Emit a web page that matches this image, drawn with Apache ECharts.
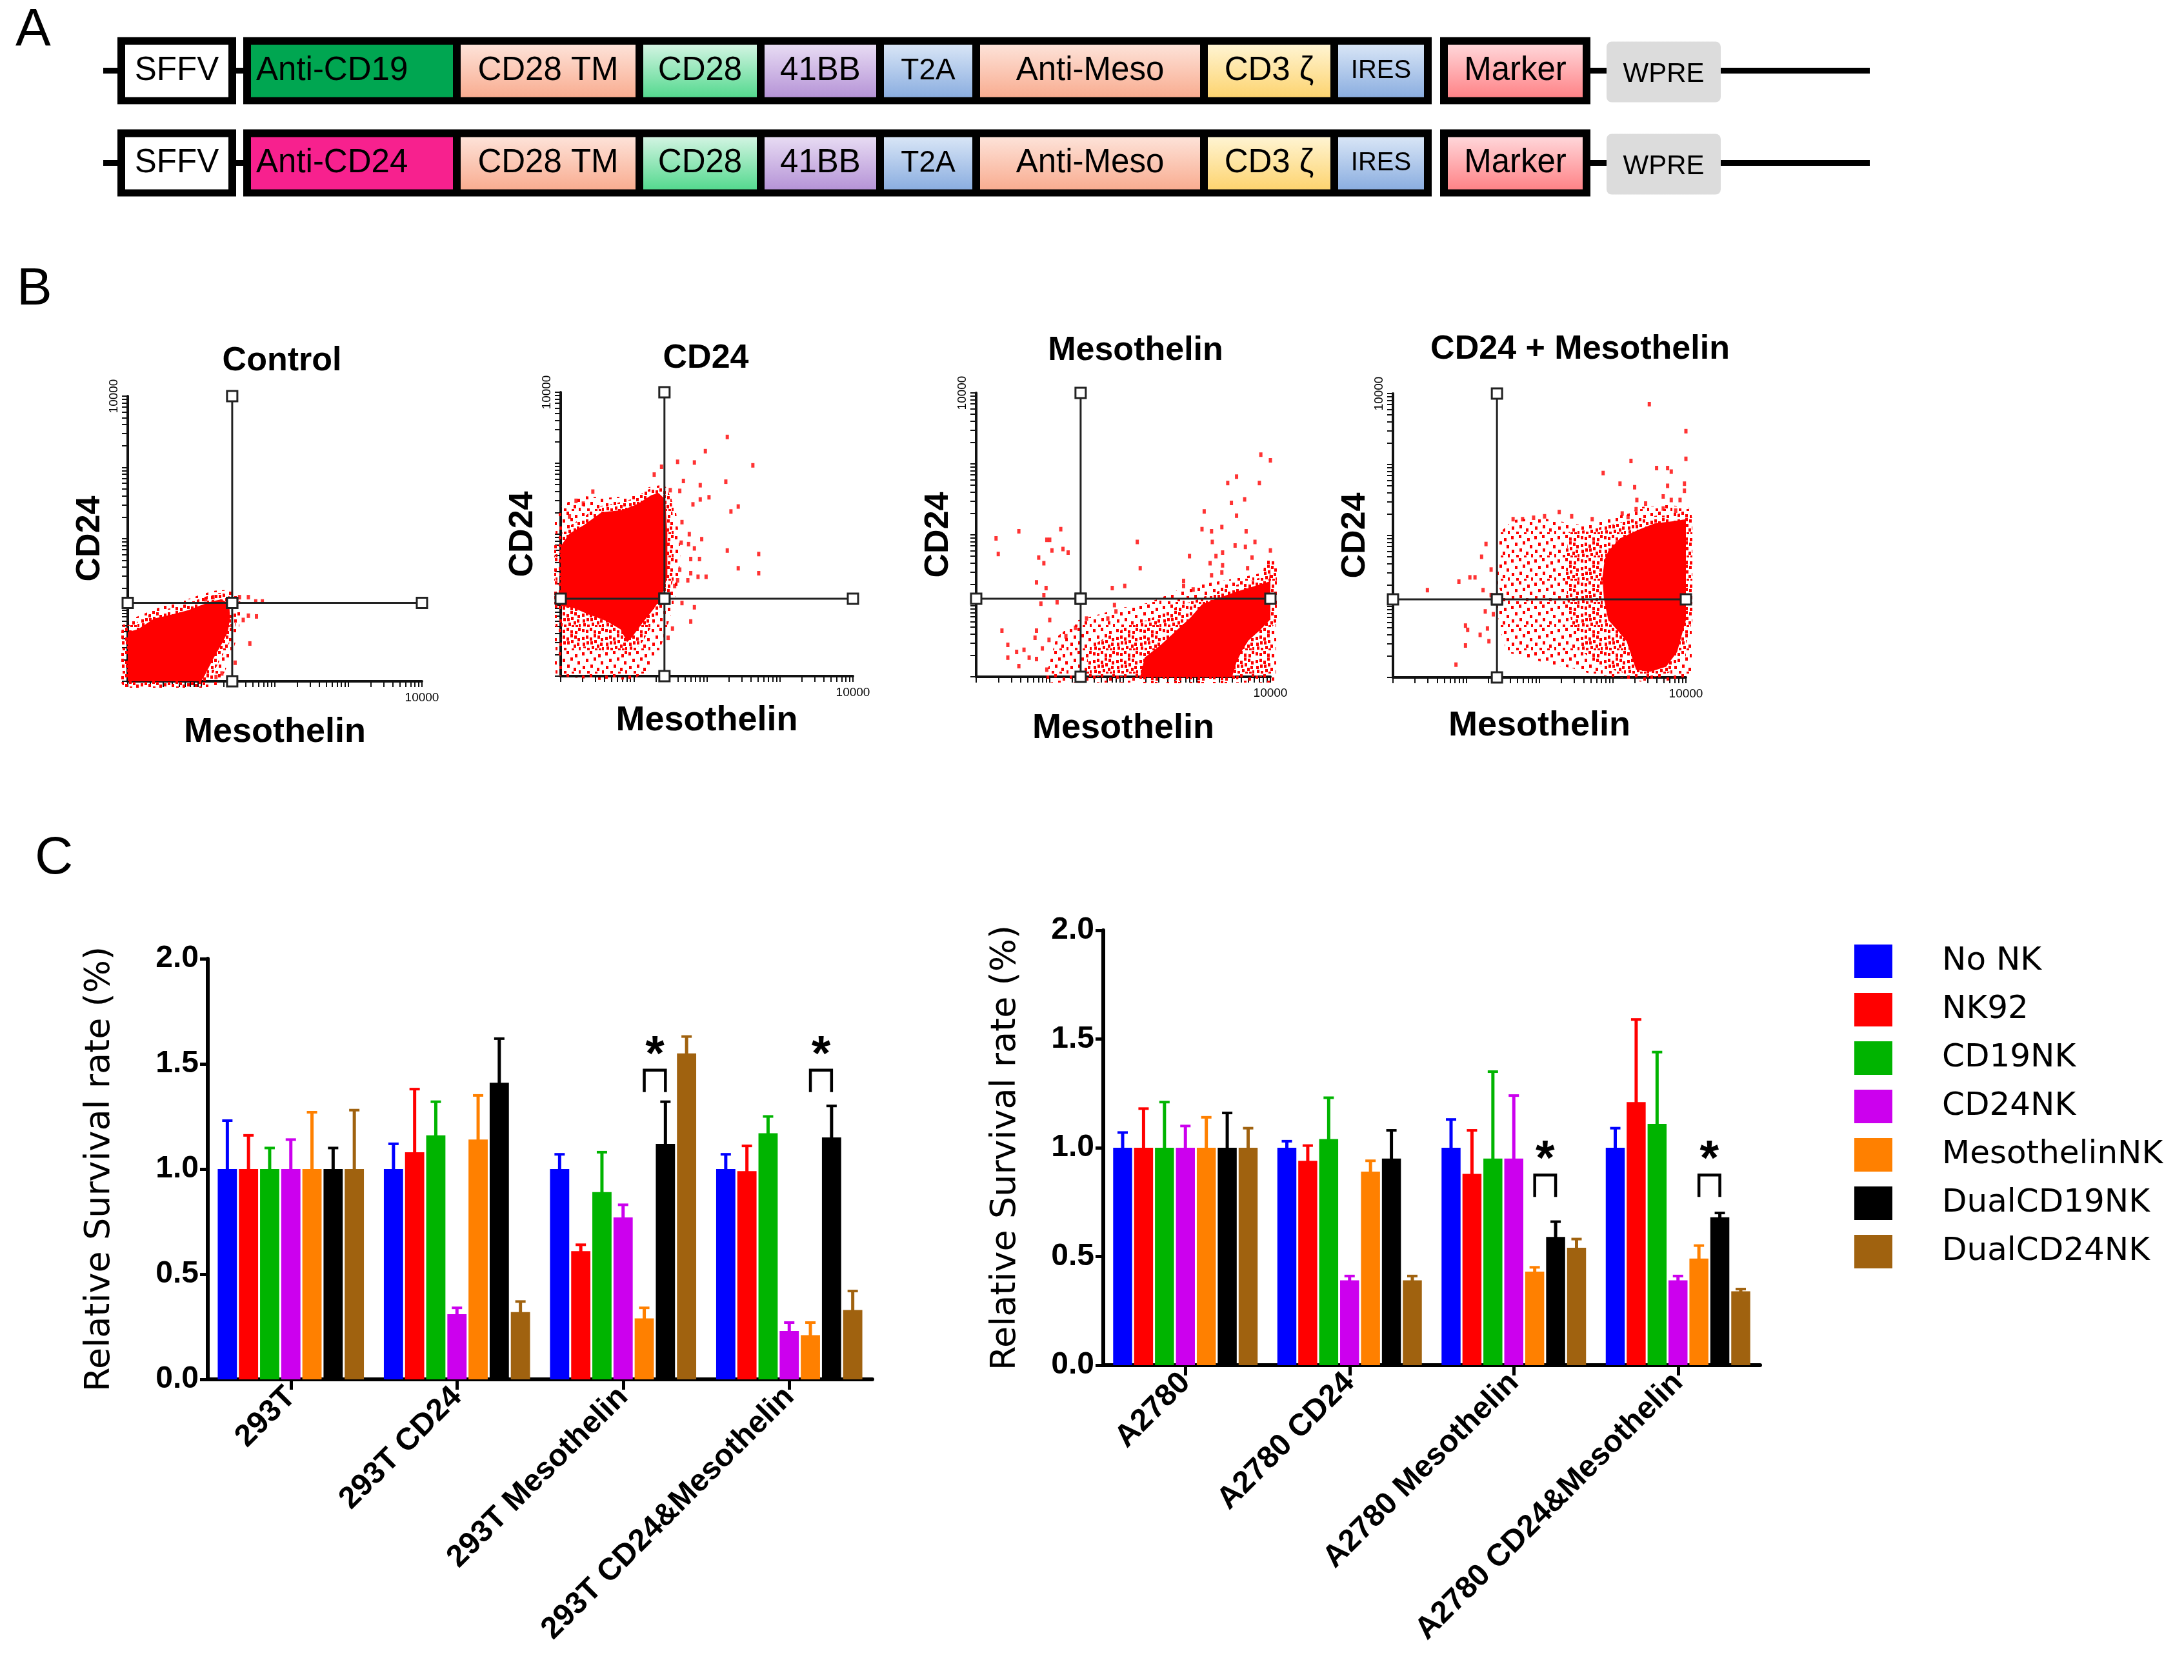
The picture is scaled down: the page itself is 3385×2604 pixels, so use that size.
<!DOCTYPE html>
<html><head><meta charset="utf-8">
<script src="https://cdn.jsdelivr.net/npm/echarts@6/dist/echarts.min.js"></script>
<style>html,body{margin:0;padding:0;background:#fff;}#chart{width:3385px;height:2604px;}</style>
</head><body><div id="chart"></div>
<script>
// ================= DATA =================
// ---- Panel A: constructs ----
const CONSTRUCT_ROWS = ['Anti-CD19 / Anti-Meso', 'Anti-CD24 / Anti-Meso'];
const ROW1_ELEMENTS = ['SFFV','Anti-CD19','CD28 TM','CD28','41BB','T2A','Anti-Meso','CD3 ζ','IRES','Marker','WPRE'];
const ROW2_ELEMENTS = ['SFFV','Anti-CD24','CD28 TM','CD28','41BB','T2A','Anti-Meso','CD3 ζ','IRES','Marker','WPRE'];
const ELEMENT_LENGTHS = [184,331,283,188,185,149,353,202,151,233,177];
const ELEMENT_BLOCK   = [0,1,1,1,1,1,1,1,1,2,3];
const LINKER_LENGTHS  = [22,11,13,25,231];
const LINKER_LINE     = [true,true,false,true,true];

// ---- Panel B: flow cytometry (log10 units, 0..4) ----
const FACS_TITLES = ['Control','CD24','Mesothelin','CD24 + Mesothelin'];
const FACS_AXIS_MAX_LABEL = '10000';
const GATE_X = [1.42,1.42,1.42,1.42];
const GATE_Y = [1.10,1.09,1.10,1.10];

const CONTROL_CORE = [[0,0],[0,0.69],[0.14,0.73],[0.36,0.88],[0.61,0.94],[0.83,1.00],[0.98,1.06],[1.14,1.12],[1.27,1.15],[1.38,1.09],[1.39,0.88],[1.36,0.69],[1.27,0.51],[1.17,0.33],[1.11,0.21],[1.05,0.09],[1.00,0]];
const CONTROL_HALO = [[0,0],[0,0.76],[0.20,0.85],[0.50,0.98],[0.80,1.06],[1.05,1.15],[1.20,1.19],[1.35,1.20],[1.45,1.12],[1.46,0.90],[1.40,0.60],[1.30,0.30],[1.20,0.06],[1.15,0]];
const CONTROL_EVENTS = [[1.52,1.18],[1.64,1.18],[1.74,1.12],[1.83,1.12],[1.64,0.92],[1.75,0.91],[1.57,0.86],[1.66,0.53],[1.46,0.26],[1.16,1.18],[1.06,1.15],[1.28,0.11],[1.20,0.06]];

const CD24_CORE = [[0,1.83],[0.12,2.01],[0.32,2.13],[0.56,2.31],[0.85,2.34],[1.06,2.43],[1.24,2.55],[1.34,2.58],[1.43,2.49],[1.46,2.01],[1.46,1.41],[1.38,1.11],[1.26,0.93],[1.12,0.75],[0.97,0.54],[0.91,0.48],[0.82,0.66],[0.62,0.78],[0.38,0.87],[0.18,0.96],[0,0.99]];
const CD24_MID  = [[0,0.99],[0,0.45],[0.30,0.40],[0.60,0.35],[0.90,0.30],[1.10,0.45],[1.30,0.80],[1.45,1.20],[1.50,1.90],[1.45,2.45],[1.30,2.62],[1.00,2.50],[0.50,2.37],[0.10,2.10],[0,1.95]];
const CD24_HALO = [[0,0.99],[0,0.08],[0.32,0.05],[0.62,0.02],[0.97,0.04],[1.15,0.14],[1.29,0.42],[1.41,0.81],[1.53,1.26],[1.56,1.77],[1.50,2.31],[1.38,2.61],[1.21,2.58],[0.97,2.46],[0.62,2.43],[0.26,2.46],[0.03,2.31],[0,2.16]];
const CD24_EVENTS = [[2.28,3.37],[1.98,3.17],[1.60,3.02],[1.83,3.01],[2.63,2.97],[1.38,2.95],[1.28,2.84],[1.68,2.75],[2.26,2.74],[1.91,2.69],[1.50,2.62],[1.63,2.61],[2.03,2.52],[1.91,2.49],[1.81,2.42],[2.43,2.39],[2.33,2.32],[1.66,2.17],[1.76,2.00],[1.93,1.93],[1.65,1.88],[1.75,1.86],[1.83,1.80],[2.28,1.77],[2.71,1.72],[1.90,1.65],[1.78,1.65],[2.43,1.52],[1.63,1.50],[2.71,1.45],[1.78,1.45],[1.99,1.40],[1.88,1.40],[1.60,1.35],[1.74,1.35],[1.56,1.27],[1.66,1.03],[1.83,0.97],[1.78,0.77],[1.53,0.67],[0.44,2.60],[0.21,2.47],[0.31,2.43],[0.12,2.25],[1.47,0.54]];

const MESO_CORE = [[2.23,0],[2.29,0.27],[2.51,0.45],[2.73,0.66],[2.92,0.84],[3.07,1.02],[3.29,1.11],[3.54,1.20],[3.79,1.28],[3.98,1.34],[4.0,1.56],[4.0,0.81],[3.86,0.66],[3.70,0.51],[3.61,0.36],[3.54,0.21],[3.48,0]];
const MESO_MID  = [[1.47,0],[1.54,0.42],[1.79,0.57],[2.10,0.72],[2.35,0.81],[2.66,0.96],[2.98,1.08],[3.29,1.17],[3.61,1.23],[4.0,1.32],[4.0,0]];
const MESO_HALO = [[1.03,0],[1.16,0.51],[1.41,0.72],[1.72,0.81],[2.04,0.90],[2.35,0.96],[2.57,1.05],[2.82,1.17],[3.13,1.23],[3.45,1.29],[3.76,1.35],[4.0,1.41],[4.0,0]];
const MESO_EVENTS = [[3.87,3.13],[4.0,3.05],[3.54,2.82],[3.42,2.73],[3.85,2.73],[3.65,2.50],[3.47,2.45],[3.54,2.27],[3.10,2.33],[3.34,2.11],[3.07,2.08],[3.20,2.05],[3.67,2.05],[3.21,1.90],[3.79,1.90],[3.52,1.85],[3.66,1.83],[4.0,1.78],[3.35,1.75],[3.26,1.70],[2.90,1.70],[3.18,1.60],[3.75,1.68],[3.35,1.57],[2.23,1.53],[3.69,1.53],[3.20,1.43],[3.34,1.47],[2.82,1.35],[2.82,1.28],[2.95,1.23],[2.19,1.90],[1.85,1.25],[2.02,1.28],[0.27,1.95],[0.58,2.05],[1.15,2.08],[0.96,1.93],[1.00,1.93],[0.30,1.73],[1.03,1.78],[1.18,1.80],[1.25,1.75],[0.85,1.68],[0.92,1.60],[0.82,1.33],[0.95,1.25],[0.92,1.15],[0.88,1.03],[1.10,1.05],[1.00,0.80],[0.35,0.65],[0.82,0.65],[0.43,0.45],[0.80,0.55],[0.55,0.35],[0.65,0.38],[0.43,0.27],[0.72,0.27],[0.58,0.15],[0.82,0.25],[0.90,0.40],[0.99,0.52],[1.22,0.57],[1.35,0.69],[0.96,0.10],[1.88,1.01],[1.90,0.92],[1.79,0.82],[1.50,0.82]];

const DUAL_CORE = [[2.94,1.78],[3.10,1.96],[3.35,2.08],[3.57,2.17],[3.82,2.20],[4.0,2.23],[4.0,0.81],[3.88,0.36],[3.73,0.15],[3.51,0.08],[3.32,0.11],[3.19,0.51],[3.07,0.66],[2.94,0.81],[2.88,1.11],[2.86,1.41],[2.89,1.66]];
const DUAL_MID  = [[2.40,2.05],[2.70,2.08],[2.95,2.15],[3.25,2.22],[3.60,2.28],[4.0,2.28],[4.0,0.30],[3.60,0.04],[3.20,0.05],[2.85,0.15],[2.60,0.35],[2.45,0.70],[2.38,1.10],[2.36,1.60]];
const DUAL_HALO = [[1.52,1.99],[1.68,2.14],[2.00,2.17],[2.31,2.11],[2.63,2.05],[2.94,2.17],[3.25,2.23],[3.41,2.32],[3.73,2.35],[4.0,2.32],[4.0,0.08],[3.82,0.04],[3.41,0.02],[3.10,0.08],[2.78,0.11],[2.47,0.21],[2.15,0.27],[1.84,0.36],[1.62,0.42],[1.55,0.66],[1.50,0.96],[1.56,1.20],[1.48,1.41],[1.55,1.72]];
const DUAL_EVENTS = [[3.50,3.85],[4.0,3.47],[4.0,3.08],[3.25,3.05],[3.60,2.95],[3.75,2.95],[3.80,2.90],[2.87,2.88],[3.10,2.73],[3.30,2.68],[3.75,2.70],[3.98,2.73],[3.98,2.63],[3.69,2.55],[3.80,2.50],[3.92,2.50],[3.33,2.50],[3.45,2.45],[3.32,2.37],[3.69,2.38],[3.13,2.31],[3.21,2.26],[3.86,2.35],[2.27,2.33],[2.07,2.27],[1.92,2.25],[1.77,2.23],[1.64,2.23],[2.44,2.27],[2.72,2.23],[1.27,1.88],[1.21,1.70],[1.34,1.52],[1.05,1.41],[1.12,1.41],[0.90,1.35],[0.47,1.23],[1.23,1.23],[1.34,1.16],[1.26,0.93],[1.37,0.89],[0.99,0.73],[1.02,0.67],[1.19,0.60],[1.31,0.51],[1.29,0.69],[0.99,0.45],[0.86,0.18]];

// ---- Panel C: survival bars ----
const SERIES_NAMES = ['No NK','NK92','CD19NK','CD24NK','MesothelinNK','DualCD19NK','DualCD24NK'];
const CATS_293T  = ['293T','293T CD24','293T Mesothelin','293T CD24&Mesothelin'];
const CATS_A2780 = ['A2780','A2780 CD24','A2780 Mesothelin','A2780 CD24&Mesothelin'];
const Y_TICKS = [0, 0.5, 1.0, 1.5, 2.0];

const MEAN_293T = [
  [1.00,1.00,1.00,1.00],
  [1.00,1.08,0.61,0.99],
  [1.00,1.16,0.89,1.17],
  [1.00,0.31,0.77,0.23],
  [1.00,1.14,0.29,0.21],
  [1.00,1.41,1.12,1.15],
  [1.00,0.32,1.55,0.33]
];
const SD_293T = [
  [0.23,0.12,0.07,0.07],
  [0.16,0.30,0.03,0.12],
  [0.10,0.16,0.19,0.08],
  [0.14,0.03,0.06,0.04],
  [0.27,0.21,0.05,0.06],
  [0.10,0.21,0.20,0.15],
  [0.28,0.05,0.08,0.09]
];
const MEAN_A2780 = [
  [1.00,1.00,1.00,1.00],
  [1.00,0.94,0.88,1.21],
  [1.00,1.04,0.95,1.11],
  [1.00,0.39,0.95,0.39],
  [1.00,0.89,0.43,0.49],
  [1.00,0.95,0.59,0.68],
  [1.00,0.39,0.54,0.34]
];
const SD_A2780 = [
  [0.07,0.03,0.13,0.09],
  [0.18,0.07,0.20,0.38],
  [0.21,0.19,0.40,0.33],
  [0.10,0.02,0.29,0.02],
  [0.14,0.05,0.02,0.06],
  [0.16,0.13,0.07,0.02],
  [0.09,0.02,0.04,0.01]
];
// significance: [category, seriesA, seriesB, bracket level]
const SIG_293T  = [[2,4,5,1.47],[3,4,5,1.47]];
const SIG_A2780 = [[2,4,5,0.875],[3,4,5,0.875]];

// ================= STYLE =================
const SERIES_COLORS = ['#0000ff','#ff0000','#00b400','#cc00ee','#ff8000','#000000','#a0620f'];
const ELEMENT_FILL = {
  'SFFV':['#ffffff','#ffffff'], 'Anti-CD19':['#00a651','#00a651'], 'Anti-CD24':['#f7218e','#f7218e'],
  'CD28 TM':['#fde2d8','#f9ad91'], 'CD28':['#d2f4e2','#55d98f'], '41BB':['#e7dbf3','#b694d7'],
  'T2A':['#d8e5f6','#8baee0'], 'Anti-Meso':['#fde2d8','#f9ad91'], 'CD3 ζ':['#fff4d2','#fdd470'],
  'IRES':['#d8e5f6','#8baee0'], 'Marker':['#ffd6d9','#ff8387'], 'WPRE':['#dcdcdc','#dcdcdc']
};
const ELEMENT_FONT = {'IRES':40,'WPRE':42,'T2A':46};
const ELEMENT_LEFT = {'Anti-CD19':true,'Anti-CD24':true};
const BLOCK_FRAMED = [true,true,true,false];
const FONT = 'Liberation Sans';

const chart = echarts.init(document.getElementById('chart'), null, {renderer:'canvas'});

// ---------- panel A renderer ----------
function renderConstruct(params, api){
  const row = api.value(1);
  const names = row === 0 ? ROW1_ELEMENTS : ROW2_ELEMENTS;
  const band = api.size([0,1])[1];
  const H = band*0.727;
  const yc = api.coord([0,row])[1];
  const top = yc - H/2;
  const X = v => api.coord([v,row])[0];
  const ch = [];
  const FT = 12, FB = 11, SEP = 6;
  let pos = 0;
  const nBlocks = BLOCK_FRAMED.length;
  const line = (a,b) => ch.push({type:'rect', shape:{x:X(a), y:yc-4.5, width:X(b)-X(a), height:9}, style:{fill:'#000'}});
  for (let b=0; b<nBlocks; b++){
    if (LINKER_LINE[b]) line(pos, pos+LINKER_LENGTHS[b]);
    pos += LINKER_LENGTHS[b];
    const idx = ELEMENT_BLOCK.map((v,i)=>v===b?i:-1).filter(i=>i>=0);
    const bStart = pos;
    const bEnd = pos + idx.reduce((s,i)=>s+ELEMENT_LENGTHS[i],0);
    if (BLOCK_FRAMED[b]) ch.push({type:'rect', shape:{x:X(bStart), y:top, width:X(bEnd)-X(bStart), height:H}, style:{fill:'#000'}});
    let cs = bStart;
    idx.forEach((i,k)=>{
      const ce = cs + ELEMENT_LENGTHS[i];
      const nm = names[i];
      const col = ELEMENT_FILL[nm];
      const grad = new echarts.graphic.LinearGradient(0,0,0,1,[{offset:0,color:col[0]},{offset:1,color:col[1]}]);
      let x0, x1, y0, y1, r = 0;
      if (BLOCK_FRAMED[b]){
        x0 = X(cs) + (k===0?FT:SEP); x1 = X(ce) - (k===idx.length-1?FT:SEP);
        y0 = top + FT; y1 = top + H - FB;
      } else {
        x0 = X(cs); x1 = X(ce); y0 = top + 7; y1 = top + H - 3; r = 8;
      }
      ch.push({type:'rect', shape:{x:x0,y:y0,width:x1-x0,height:y1-y0,r:r}, style:{fill:grad}});
      const left = ELEMENT_LEFT[nm];
      ch.push({type:'text', style:{text:nm, x: left ? x0+8 : (x0+x1)/2, y:(y0+y1)/2 + (BLOCK_FRAMED[b]?0:4), align: left ? 'left' : 'center', verticalAlign:'middle', fontFamily:FONT, fontSize:ELEMENT_FONT[nm]||51, fill:'#000'}});
      cs = ce;
    });
    pos = bEnd;
  }
  line(pos, pos+LINKER_LENGTHS[nBlocks]);
  return {type:'group', children:ch};
}
const CONSTRUCT_TOTAL = ELEMENT_LENGTHS.reduce((a,b)=>a+b,0) + LINKER_LENGTHS.reduce((a,b)=>a+b,0);

// ---------- panel B helpers ----------
const LOG_TICK_POS = [];
for (let d=0; d<4; d++) for (let k=1; k<10; k++) LOG_TICK_POS.push(d + Math.log10(k));
LOG_TICK_POS.push(4);

function makeDotPattern(dots){
  const cv = document.createElement('canvas'); cv.width = 36; cv.height = 36;
  const ctx = cv.getContext('2d'); ctx.fillStyle = '#ff0000';
  dots.forEach(p=>ctx.fillRect(p[0],p[1],4,5));
  return {image: cv, repeat: 'repeat'};
}
const SPARSE_DOTS = [[2,3],[14,1],[27,6],[8,13],[20,11],[31,17],[3,24],[15,22],[25,27],[10,32],[33,31],[22,33]];
const DENSE_DOTS = SPARSE_DOTS.concat([[8,4],[20,5],[32,1],[2,15],[14,16],[26,13],[9,22],[21,20],[30,24],[4,30],[17,29],[28,33]]);
const SPARSE_PATTERN = makeDotPattern(SPARSE_DOTS);
const DENSE_PATTERN = makeDotPattern(DENSE_DOTS);

function polySeries(g, points, fill, z, stroke, lw){
  return {type:'custom', xAxisIndex:g, yAxisIndex:g, data: points, z: z, silent:true, clip:false,
    renderItem: function(params, api){
      if (params.dataIndex !== 0) return null;
      const style = {fill: fill};
      if (stroke){ style.stroke = stroke; style.lineWidth = lw; style.lineJoin = 'round'; }
      return {type:'polygon', shape:{points: points.map(p=>api.coord(p))}, style: style};
    }};
}
function facsX(g, gap){
  return {type:'value', gridIndex:g, min:0, max:4, name:'Mesothelin', nameLocation:'middle', nameGap:gap,
    nameTextStyle:{fontFamily:FONT, fontWeight:'bold', fontSize:54, color:'#000'},
    axisLine:{show:true, onZero:false, lineStyle:{color:'#111', width:4}},
    axisTick:{show:true, customValues:LOG_TICK_POS, length:9, lineStyle:{color:'#111', width:2}},
    axisLabel:{show:true, customValues:[4], formatter:()=>FACS_AXIS_MAX_LABEL, fontSize:19, margin:16, color:'#000', fontFamily:FONT},
    splitLine:{show:false}};
}
function facsY(g, gap){
  return {type:'value', gridIndex:g, min:0, max:4, name:'CD24', nameLocation:'middle', nameGap:gap, nameRotate:90,
    nameTextStyle:{fontFamily:FONT, fontWeight:'bold', fontSize:52, color:'#000'},
    axisLine:{show:true, onZero:false, lineStyle:{color:'#111', width:4}},
    axisTick:{show:true, customValues:LOG_TICK_POS, length:9, lineStyle:{color:'#111', width:2}},
    axisLabel:{show:true, customValues:[4], formatter:()=>FACS_AXIS_MAX_LABEL, rotate:90, fontSize:19, margin:12, color:'#000', fontFamily:FONT},
    splitLine:{show:false}};
}
function gateSeries(g){
  const gx = GATE_X[g-2], gy = GATE_Y[g-2];
  const base = {type:'line', xAxisIndex:g, yAxisIndex:g, symbol:'rect', symbolSize:16, showSymbol:true, z:6, silent:true,
    lineStyle:{color:'#222', width:3}, itemStyle:{color:'#fff', borderColor:'#222', borderWidth:3}};
  return [Object.assign({}, base, {data:[[gx,0],[gx,gy],[gx,4]]}), Object.assign({}, base, {data:[[0,gy],[gx,gy],[4,gy]]})];
}
const FACS_SETS = [
  [CONTROL_HALO, null, CONTROL_CORE, CONTROL_EVENTS],
  [CD24_HALO, CD24_MID, CD24_CORE, CD24_EVENTS],
  [MESO_HALO, MESO_MID, MESO_CORE, MESO_EVENTS],
  [DUAL_HALO, DUAL_MID, DUAL_CORE, DUAL_EVENTS]
];

// ---------- panel C helpers ----------
const BAR_GAP = 0.10, CAT_GAP = 0.12, NSER = SERIES_NAMES.length;
function barCenter(api, c, i){
  const band = api.size([1,0])[0];
  const w = band*(1-CAT_GAP)/(NSER + (NSER-1)*BAR_GAP);
  const total = NSER*w + (NSER-1)*BAR_GAP*w;
  return api.coord([c,0])[0] - total/2 + i*w*(1+BAR_GAP) + w/2;
}
function errorSeries(g, i, means, sds){
  return {type:'custom', name:SERIES_NAMES[i], xAxisIndex:g, yAxisIndex:g, z:3, silent:true, clip:false,
    data: means[i].map((m,c)=>[c, m, m+sds[i][c]]),
    renderItem: function(params, api){
      const c = api.value(0);
      const x = barCenter(api, c, i);
      const y0 = api.coord([c, api.value(1)])[1], y1 = api.coord([c, api.value(2)])[1];
      const col = SERIES_COLORS[i];
      return {type:'group', children:[
        {type:'line', shape:{x1:x,y1:y0+2,x2:x,y2:y1}, style:{stroke:col, lineWidth:5}},
        {type:'line', shape:{x1:x-8,y1:y1,x2:x+8,y2:y1}, style:{stroke:col, lineWidth:4}}
      ]};
    }};
}
function sigSeries(g, sig){
  return {type:'custom', xAxisIndex:g, yAxisIndex:g, z:4, silent:true, clip:false, data: sig,
    renderItem: function(params, api){
      const c = api.value(0);
      const xa = barCenter(api, c, api.value(1)), xb = barCenter(api, c, api.value(2));
      const yt = api.coord([c, api.value(3)])[1];
      return {type:'group', children:[
        {type:'polyline', shape:{points:[[xa,yt+34],[xa,yt],[xb,yt],[xb,yt+34]]}, style:{stroke:'#000', lineWidth:4.5, fill:null}},
        {type:'text', style:{text:'*', x:(xa+xb)/2, y:yt-22, align:'center', verticalAlign:'middle', fontFamily:FONT, fontWeight:'bold', fontSize:76, fill:'#000'}}
      ]};
    }};
}
function barX(g, cats){
  return {type:'category', gridIndex:g, data:cats,
    axisLine:{show:true, lineStyle:{color:'#000', width:6}},
    axisTick:{show:true, alignWithLabel:true, interval:0, length:16, lineStyle:{color:'#000', width:5}},
    axisLabel:{interval:0, rotate:45, margin:20, fontFamily:FONT, fontWeight:'bold', fontSize:48, color:'#000'},
    splitLine:{show:false}};
}
function barY(g, gap){
  return {type:'value', gridIndex:g, min:0, max:2, interval:0.5,
    name:'Relative Survival rate (%)', nameLocation:'middle', nameGap:gap,
    nameTextStyle:{fontFamily:'DejaVu Sans', fontSize:54, color:'#000'},
    axisLine:{show:true, lineStyle:{color:'#000', width:6}},
    axisTick:{show:true, length:12, lineStyle:{color:'#000', width:5}},
    axisLabel:{customValues:Y_TICKS, formatter:v=>v.toFixed(1), margin:14, fontFamily:FONT, fontWeight:'bold', fontSize:48, color:'#000'},
    splitLine:{show:false}};
}

// ================= OPTION =================
const series = [];
SERIES_NAMES.forEach((n,i)=>series.push({type:'bar', name:n, xAxisIndex:0, yAxisIndex:0, data:MEAN_293T[i], barGap:'10%', barCategoryGap:'12%', itemStyle:{color:SERIES_COLORS[i]}, z:2}));
SERIES_NAMES.forEach((n,i)=>series.push({type:'bar', name:n, xAxisIndex:1, yAxisIndex:1, data:MEAN_A2780[i], barGap:'10%', barCategoryGap:'12%', itemStyle:{color:SERIES_COLORS[i]}, z:2}));
SERIES_NAMES.forEach((n,i)=>series.push(errorSeries(0, i, MEAN_293T, SD_293T)));
SERIES_NAMES.forEach((n,i)=>series.push(errorSeries(1, i, MEAN_A2780, SD_A2780)));
series.push(sigSeries(0, SIG_293T));
series.push(sigSeries(1, SIG_A2780));
FACS_SETS.forEach((set, k)=>{
  const g = k+2;
  series.push(polySeries(g, set[0], SPARSE_PATTERN, 1, SPARSE_PATTERN, 18));
  if (set[1]) series.push(polySeries(g, set[1], DENSE_PATTERN, 2, null, 0));
  series.push(polySeries(g, set[2], '#ff0000', 3, DENSE_PATTERN, 20));
  series.push({type:'scatter', xAxisIndex:g, yAxisIndex:g, data:set[3], symbol:'rect', symbolSize:[5,7], itemStyle:{color:'#ff0000'}, silent:true, z:4});
  gateSeries(g).forEach(s=>series.push(s));
});
series.push({type:'custom', xAxisIndex:6, yAxisIndex:6, data: CONSTRUCT_ROWS.map((r,i)=>[0,i]), renderItem: renderConstruct, silent:true, clip:false});

const FACS_GRIDS = [
  {left:198, top:614, width:456, height:442},
  {left:869, top:608, width:453, height:440},
  {left:1513, top:609, width:456, height:440},
  {left:2159, top:610, width:454, height:440}
];
const titleStyle = {fontFamily:FONT, fontWeight:'bold', fontSize:52, color:'#000'};
const panelStyle = {fontFamily:FONT, fontWeight:'normal', fontSize:82, color:'#000'};

const option = {
  animation:false,
  backgroundColor:'#fff',
  textStyle:{fontFamily:FONT},
  title:[
    {text:'A', left:24, top:6, padding:0, textStyle:panelStyle},
    {text:'B', left:26, top:408, padding:0, textStyle:panelStyle},
    {text:'C', left:54, top:1290, padding:0, textStyle:panelStyle},
    {text:FACS_TITLES[0], left:437, top:534, textAlign:'center', padding:0, textStyle:titleStyle},
    {text:FACS_TITLES[1], left:1094, top:530, textAlign:'center', padding:0, textStyle:titleStyle},
    {text:FACS_TITLES[2], left:1760, top:518, textAlign:'center', padding:0, textStyle:titleStyle},
    {text:FACS_TITLES[3], left:2449, top:516, textAlign:'center', padding:0, textStyle:titleStyle}
  ],
  legend:{orient:'vertical', left:2869, top:1459, itemWidth:59, itemHeight:52, itemGap:23, icon:'rect', selectedMode:false,
    data:SERIES_NAMES, textStyle:{fontFamily:'DejaVu Sans', fontSize:50, color:'#000', padding:[0,0,0,72]}},
  grid:[
    {left:322, top:1486, width:1030, height:652},
    {left:1710, top:1442, width:1018, height:674},
    FACS_GRIDS[0], FACS_GRIDS[1], FACS_GRIDS[2], FACS_GRIDS[3],
    {left:160, top:38, width:CONSTRUCT_TOTAL*1.0, height:286}
  ],
  xAxis:[
    barX(0, CATS_293T), barX(1, CATS_A2780),
    facsX(2, 52), facsX(3, 42), facsX(4, 53), facsX(5, 48),
    {type:'value', gridIndex:6, min:0, max:CONSTRUCT_TOTAL, show:false}
  ],
  yAxis:[
    barY(0, 140), barY(1, 124),
    facsY(2, 22), facsY(3, 26), facsY(4, 26), facsY(5, 32),
    {type:'category', gridIndex:6, data:CONSTRUCT_ROWS, inverse:true, show:false}
  ],
  series: series
};
chart.setOption(option);
</script></body></html>
